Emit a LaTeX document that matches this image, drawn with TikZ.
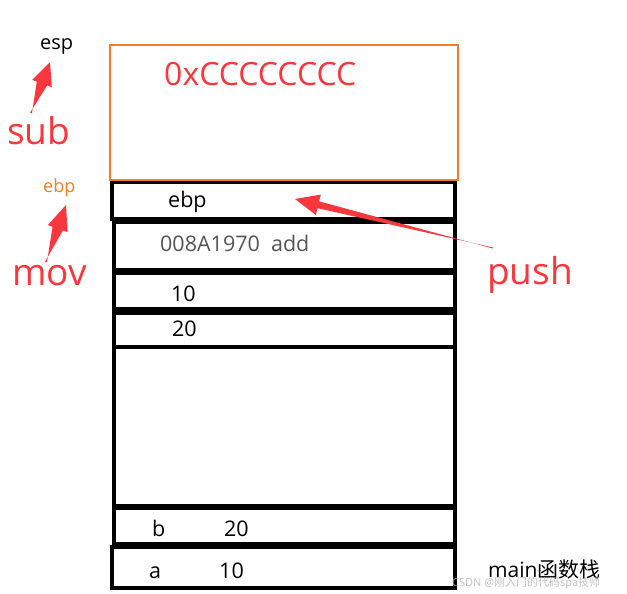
\documentclass[tikz,border=0pt]{standalone}
\usepackage{fontspec}
\setmainfont{Open Sans}
\newfontfamily\cjk{Noto Sans CJK SC}
\usetikzlibrary{calc}
\definecolor{myred}{RGB}{250,55,60}
\definecolor{myorange}{RGB}{250,125,35}
\definecolor{mygray}{RGB}{85,85,85}
\newcommand{\fatarrow}[6]{% tail, tip, headlen, headwidth, shaftwidth, tailwidth
  \fill[myred]
    ($(#1)!#6/2!90:(#2)$) --
    ($($(#2)!#3!(#1)$)!#5/2!-90:(#2)$) --
    ($($(#2)!#3!(#1)$)!#4/2!-90:(#2)$) --
    (#2) --
    ($($(#2)!#3!(#1)$)!#4/2!90:(#2)$) --
    ($($(#2)!#3!(#1)$)!#5/2!90:(#2)$) --
    ($(#1)!#6/2!-90:(#2)$) -- cycle;}
\tikzset{
  row/.style={draw=black, line width=4pt},
  cell/.style={inner sep=0pt, anchor=base west, font=\fontsize{21.5}{25}\selectfont},
  bigred/.style={inner sep=0pt, text=myred, font=\fontsize{37}{44}\selectfont},
}
\begin{document}
\begin{tikzpicture}[x=1pt,y=-1pt]
\useasboundingbox[fill=white] (0,0) rectangle (627,594);
% stack rows
\draw[row] (112,182) rectangle (455,219);
\draw[row] (114,222) rectangle (455,270);
\draw[row] (114,273) rectangle (455,309);
\draw[row] (114,313) rectangle (455,347);
\draw[row] (114,347) rectangle (455,506);
\draw[row] (114,508) rectangle (455,544);
\draw[row] (112,547) rectangle (455,588);
% orange frame
\draw[myorange, line width=2pt] (110,45) rectangle (458,180);
% texts
\node[inner sep=0pt, anchor=base west, text=myred, font=\fontsize{32}{38}\selectfont] (cc) at (164,85) {0xCCCCCCCC};
\node[cell] (ebpcell) at (168,207) {ebp};
\node[cell, text=mygray] (addr) at (160,251) {008A1970\ \ add};
\node[cell] (ten) at (171,301) {10};
\node[cell] (twenty) at (172,336) {20};
\node[cell] (b) at (152,536) {b};
\node[cell] (bv) at (224,536) {20};
\node[cell] (a) at (149,578) {a};
\node[cell] (av) at (219,578) {10};
\node[inner sep=0pt, anchor=base west, font=\fontsize{21}{25}\selectfont] (main) at (488,577) {main{\cjk 函数栈}};
\node[inner sep=0pt, anchor=base west, text=gray!60, opacity=0.8, font=\fontsize{11}{13}\selectfont] (wm) at (452,586) {CSDN @{\cjk 刚入门的代码spa技师}};
\node[inner sep=0pt, anchor=base west, font=\fontsize{20}{24}\selectfont] (esp) at (40,50) {esp};
\node[inner sep=0pt, anchor=base west, text=myorange, font=\fontsize{18}{22}\selectfont] (ebp) at (43,192) {ebp};
\node[bigred, anchor=base west] (sub) at (7,144) {sub};
\node[bigred, anchor=base west] (mov) at (12,285) {mov};
\node[bigred, anchor=base west] (push) at (487,284) {push};
% arrows
\coordinate (t1) at (31,113);
\coordinate (h1) at (50,62);
\coordinate (t2) at (46,262);
\coordinate (h2) at (66,205);
\coordinate (t3) at (493,248);
\coordinate (h3) at (295,199);
\fatarrow{t1}{h1}{23pt}{21pt}{11pt}{2pt}
\fatarrow{t2}{h2}{25pt}{21pt}{11pt}{2pt}
\fatarrow{t3}{h3}{24pt}{21pt}{7pt}{1pt}
\end{tikzpicture}
\end{document}
